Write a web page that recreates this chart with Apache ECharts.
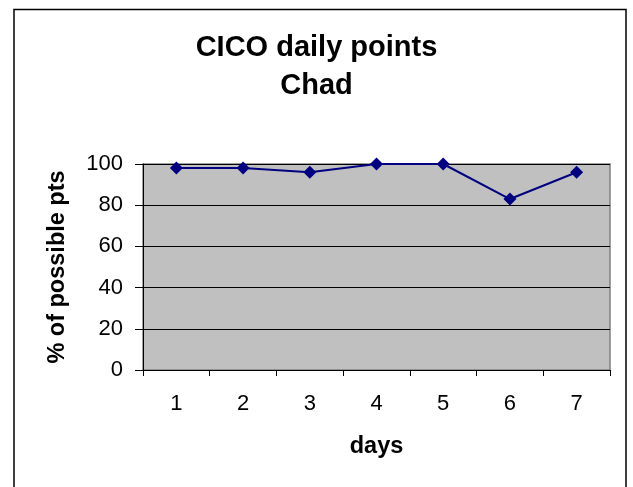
<!DOCTYPE html>
<html>
<head>
<meta charset="utf-8">
<script src="https://cdn.jsdelivr.net/npm/echarts@6/dist/echarts.min.js"></script>
<style>html,body{margin:0;padding:0;background:#fff}#c{width:633px;height:487px}</style>
</head>
<body>
<div id="c"></div>
<script>
var titleText = 'CICO daily points\nChad';
var days = ['1', '2', '3', '4', '5', '6', '7'];
var points = [98, 98, 96, 100, 100, 83, 96];
var yTicks = { min: 0, max: 100, interval: 20 };
var xName = 'days';
var yName = '% of possible pts';

var FONT = '"Liberation Sans", Arial, sans-serif';
var chart = echarts.init(document.getElementById('c'), null, { renderer: 'canvas' });
chart.setOption({
  animation: false,
  backgroundColor: '#ffffff',
  title: {
    text: titleText,
    left: 'center',
    top: 29,
    padding: [0, 0, 0, 8],
    textStyle: { fontFamily: FONT, fontSize: 29, fontWeight: 'bold', color: '#000', lineHeight: 38 }
  },
  graphic: [{
    type: 'rect',
    shape: { x: 14, y: 9.5, width: 612, height: 500 },
    style: { fill: 'none', stroke: '#000', lineWidth: 1.5 },
    z: 100
  }],
  grid: { left: 143, top: 164, width: 467, height: 206, show: true, backgroundColor: '#C0C0C0', borderColor: '#808080', borderWidth: 1.5 },
  xAxis: {
    type: 'category',
    data: days,
    boundaryGap: true,
    name: xName,
    nameLocation: 'middle',
    nameGap: 65,
    nameTextStyle: { fontFamily: FONT, fontSize: 23.5, fontWeight: 'bold', color: '#000' },
    axisLine: { lineStyle: { color: '#000', width: 1 } },
    axisTick: { show: true, length: 6, alignWithLabel: false, lineStyle: { color: '#000' } },
    axisLabel: { fontFamily: FONT, fontSize: 22, color: '#000', margin: 23 },
    splitLine: { show: false }
  },
  yAxis: {
    type: 'value',
    min: yTicks.min,
    max: yTicks.max,
    interval: yTicks.interval,
    name: yName,
    nameLocation: 'middle',
    nameGap: 73,
    nameTextStyle: { fontFamily: FONT, fontSize: 23.5, fontWeight: 'bold', color: '#000' },
    axisLine: { show: true, lineStyle: { color: '#000', width: 1 } },
    axisTick: { show: true, length: 8, lineStyle: { color: '#000' } },
    axisLabel: { fontFamily: FONT, fontSize: 22, color: '#000', margin: 20 },
    splitLine: { show: true, lineStyle: { color: '#000', width: 1 } }
  },
  series: [{
    type: 'line',
    data: points,
    symbol: 'diamond',
    symbolSize: 13,
    lineStyle: { color: '#000080', width: 2 },
    itemStyle: { color: '#000080' },
    z: 5
  }]
});
</script>
</body>
</html>
